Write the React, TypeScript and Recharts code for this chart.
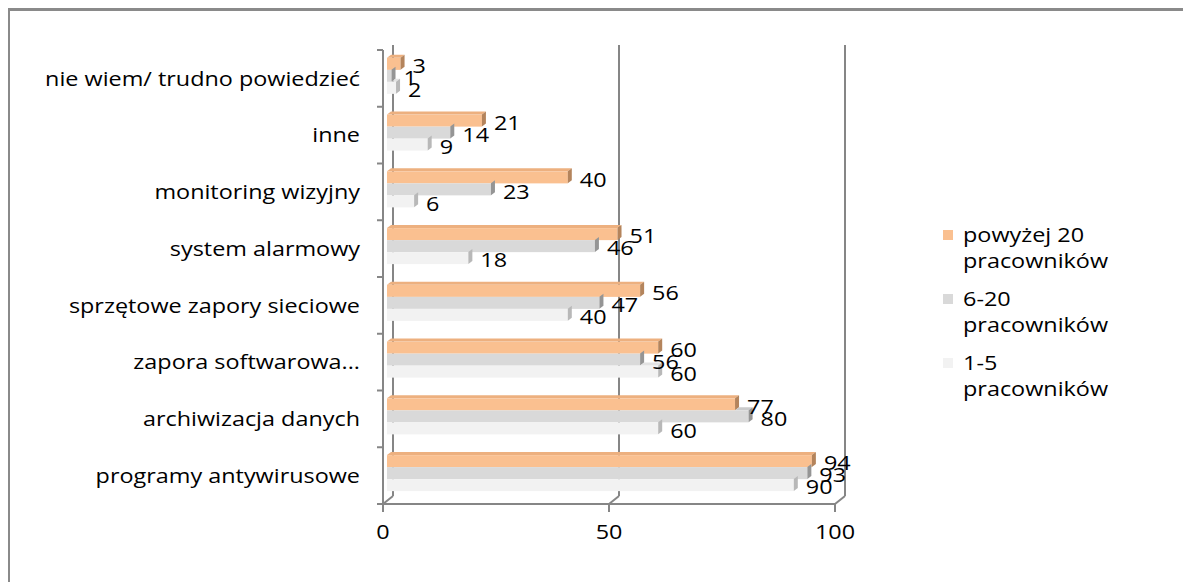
import { BarChart, Bar, XAxis, YAxis, CartesianGrid, LabelList } from "recharts";

const categories = [
  "nie wiem/ trudno powiedzieć",
  "inne",
  "monitoring wizyjny",
  "system alarmowy",
  "sprzętowe zapory sieciowe",
  "zapora softwarowa...",
  "archiwizacja danych",
  "programy antywirusowe",
];
const over20 = [3, 21, 40, 51, 56, 60, 77, 94];
const from6to20 = [1, 14, 23, 46, 47, 56, 80, 93];
const from1to5 = [2, 9, 6, 18, 40, 60, 60, 90];
const seriesNames = ["powyżej 20 pracowników", "6-20 pracowników", "1-5 pracowników"];
const xTicks = [0, 50, 100];

const keys = ["over20", "from6to20", "from1to5"];
const data = categories.map((name, i) => ({
  name,
  over20: over20[i],
  from6to20: from6to20[i],
  from1to5: from1to5[i],
}));

const FONT = "'Open Sans', Lato, sans-serif";
const FS = 20;
const SX = 1.17; // tekst w oryginale jest lekko rozciągnięty w poziomie
const AXIS = "#868686";
const TOP = 50;
const BOTTOM = 504;
const BAND = (BOTTOM - TOP) / categories.length;
// przesunięcie tylnej ściany (efekt 3D)
const BX = 10;
const BY = 8;

const colors = [
  { face: "#FAC090", top: "#EDB07F", side: "#B4845C" },
  { face: "#D9D9D9", top: "#CACACA", side: "#959595" },
  { face: "#F2F2F2", top: "#E2E2E2", side: "#B8B8B8" },
];

function Txt({ x, y, anchor, children }: any) {
  return (
    <text
      transform={`translate(${x},${y}) scale(${SX},1)`}
      dy="0.36em"
      textAnchor={anchor}
      fontFamily={FONT}
      fontSize={FS}
      fill="#000"
    >
      {children}
    </text>
  );
}

function bar3d(idx: number) {
  const c = colors[idx];
  return (p: any) => {
    const { x, y, width, height, payload } = p;
    if (!width || width <= 0) return <g />;
    const bx = x + 4;
    const by = y - 2;
    const d = 4;
    const e = 3;
    // górna ściana widoczna tylko tam, gdzie słupek powyżej jest krótszy
    let from = 0;
    if (idx > 0) {
      const prev = payload[keys[idx - 1]];
      const v = payload[keys[idx]];
      from = Math.min(width, (width * prev) / v);
    }
    return (
      <g>
        <rect x={bx} y={by} width={width} height={height} fill={c.face} />
        {from < width && (
          <polygon
            points={`${bx + from},${by} ${bx + from + d},${by - e} ${bx + width + d},${by - e} ${bx + width},${by}`}
            fill={c.top}
          />
        )}
        <polygon
          points={`${bx + width},${by} ${bx + width + d},${by - e} ${bx + width + d},${by + height - e} ${bx + width},${by + height}`}
          fill={c.side}
        />
      </g>
    );
  };
}

const valueLabel = (p: any) => {
  const { x, y, width, height, value } = p;
  return (
    <Txt x={x + width + 16} y={y + height / 2} anchor="start">
      {value}
    </Txt>
  );
};

const YTick = (p: any) => {
  const { x, y, payload, index } = p;
  const top = y - BAND / 2;
  return (
    <g>
      <line x1={x - 6} y1={top} x2={x} y2={top} stroke={AXIS} strokeWidth={2} />
      {index === categories.length - 1 && (
        <line x1={x - 6} y1={top + BAND} x2={x} y2={top + BAND} stroke={AXIS} strokeWidth={2} />
      )}
      <Txt x={x - 23} y={y} anchor="end">
        {payload.value}
      </Txt>
    </g>
  );
};

const XTick = (p: any) => {
  const { x, payload } = p;
  return (
    <Txt x={x} y={BOTTOM + 28} anchor="middle">
      {payload.value}
    </Txt>
  );
};

const backLine = (p: any) => {
  const { x1, y1, x2, y2 } = p;
  return (
    <g key={`bl-${x1}`}>
      <line x1={x1 + BX} y1={y1 - 5} x2={x2 + BX} y2={y2 - BY} stroke={AXIS} strokeWidth={2} />
      <line x1={x2} y1={y2} x2={x2 + BX} y2={y2 - BY} stroke={AXIS} strokeWidth={2} />
    </g>
  );
};

function splitName(n: string) {
  const i = n.lastIndexOf(" ");
  return [n.slice(0, i), n.slice(i + 1)];
}

export default function App() {
  return (
    <div style={{ position: "absolute", left: 0, top: 0, width: 1183, height: 582, background: "#fff", overflow: "hidden" }}>
      <div
        style={{
          position: "absolute",
          left: 8,
          top: 8,
          width: 1200,
          height: 600,
          borderTop: "3px solid #8a8a8a",
          borderLeft: "2px solid #8a8a8a",
        }}
      />
      <div style={{ position: "absolute", left: 0, top: 0 }}>
        <BarChart
          width={1183}
          height={582}
          data={data}
          layout="vertical"
          margin={{ top: TOP, right: 348, bottom: 38, left: 0 }}
          barCategoryGap="17.4%"
          barGap={0}
        >
          <CartesianGrid horizontal={false} vertical={backLine} />
          <XAxis
            type="number"
            domain={[0, 100]}
            ticks={xTicks}
            interval={0}
            height={40}
            axisLine={{ stroke: AXIS, strokeWidth: 2 }}
            tickLine={{ stroke: AXIS, strokeWidth: 2 }}
            tickSize={8}
            tick={<XTick />}
          />
          <YAxis
            type="category"
            dataKey="name"
            width={383}
            axisLine={{ stroke: AXIS, strokeWidth: 2 }}
            tickLine={false}
            tickSize={0}
            tickMargin={0}
            interval={0}
            tick={<YTick />}
          />
          {keys.map((k, i) => (
            <Bar key={k} dataKey={k} name={seriesNames[i]} fill={colors[i].face} shape={bar3d(i)} isAnimationActive={false}>
              <LabelList dataKey={k} content={valueLabel} />
            </Bar>
          ))}
        </BarChart>
      </div>
      <div style={{ position: "absolute", left: 943, top: 222, fontFamily: FONT, fontSize: FS, lineHeight: "26px", color: "#000" }}>
        {seriesNames.map((n, i) => {
          const [a, b] = splitName(n);
          return (
            <div key={n} style={{ position: "relative", paddingLeft: 20, marginBottom: 12 }}>
              <span style={{ position: "absolute", left: 0, top: 8, width: 10, height: 10, background: colors[i].face }} />
              <div style={{ transform: `scaleX(${SX})`, transformOrigin: "left", whiteSpace: "nowrap" }}>{a}</div>
              <div style={{ transform: `scaleX(${SX})`, transformOrigin: "left", whiteSpace: "nowrap" }}>{b}</div>
            </div>
          );
        })}
      </div>
    </div>
  );
}
